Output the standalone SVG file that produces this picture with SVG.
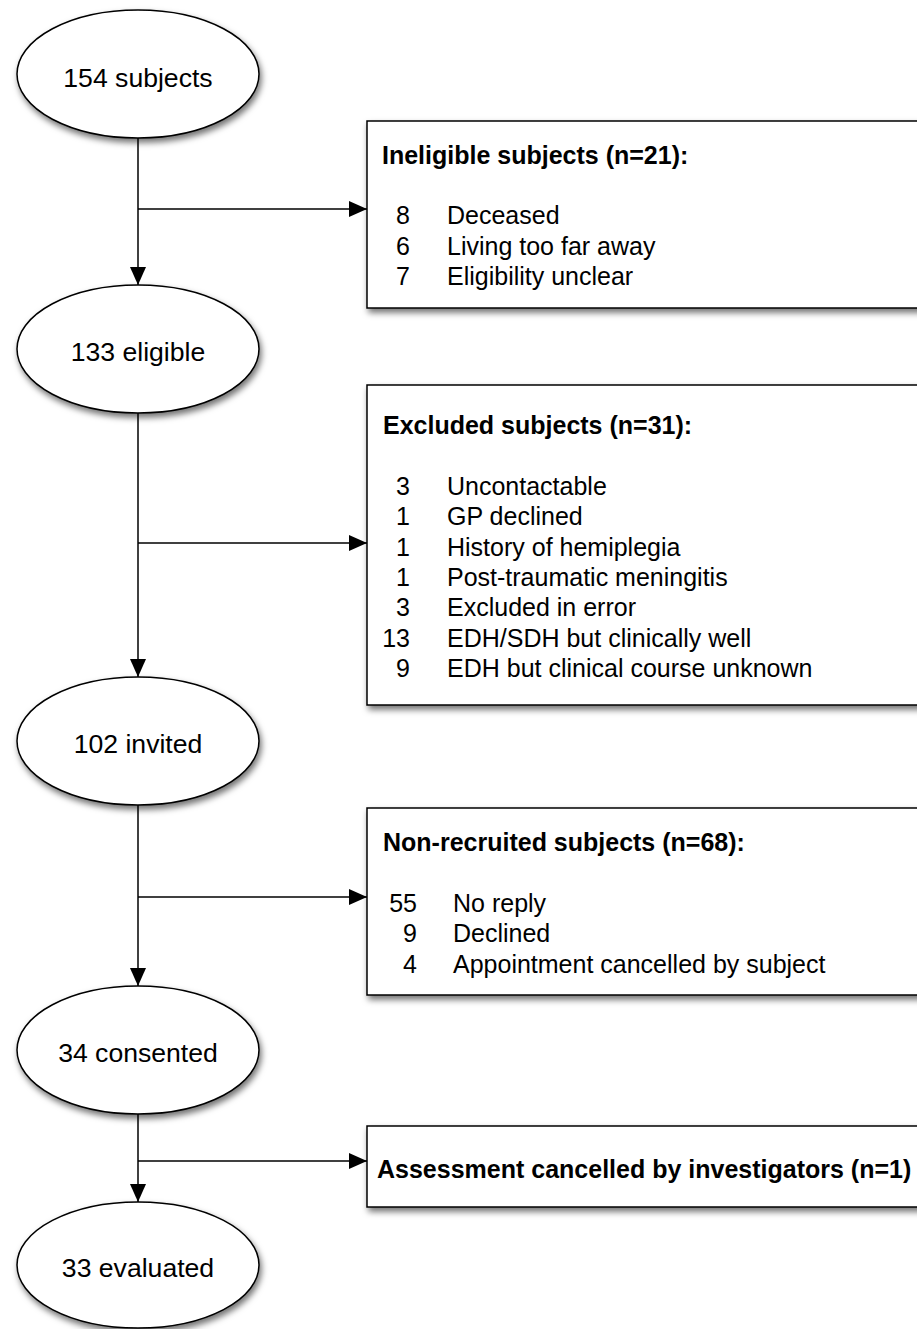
<svg xmlns="http://www.w3.org/2000/svg" width="917" height="1329" viewBox="0 0 917 1329">
<defs>
<filter id="sh" x="-10%" y="-10%" width="130%" height="140%">
<feDropShadow dx="2" dy="4" stdDeviation="3" flood-color="#000" flood-opacity="0.55"/>
</filter>
<marker id="ah" markerUnits="userSpaceOnUse" markerWidth="18" markerHeight="16" refX="18" refY="8" orient="auto">
<path d="M0,0 L18,8 L0,16 Z" fill="#000"/>
</marker>
</defs>
<style>
.node{fill:#fff;stroke:#000;stroke-width:1.5;filter:url(#sh)}
.et{font-family:"Liberation Sans",Arial,sans-serif;font-size:26.6px;text-anchor:middle;fill:#000}
.hd{font-family:"Liberation Sans",Arial,sans-serif;font-size:25px;font-weight:bold;fill:#000}
.it{font-family:"Liberation Sans",Arial,sans-serif;font-size:25px;fill:#000}
.num{text-anchor:end}
.conn{stroke:#000;stroke-width:1.5;fill:none}
</style>
<g id="connectors">
<path class="conn" d="M138,138 V285" marker-end="url(#ah)"/>
<path class="conn" d="M138,209 H367" marker-end="url(#ah)"/>
<path class="conn" d="M138,413 V677" marker-end="url(#ah)"/>
<path class="conn" d="M138,543 H367" marker-end="url(#ah)"/>
<path class="conn" d="M138,805 V986" marker-end="url(#ah)"/>
<path class="conn" d="M138,897 H367" marker-end="url(#ah)"/>
<path class="conn" d="M138,1114 V1202" marker-end="url(#ah)"/>
<path class="conn" d="M138,1161 H367" marker-end="url(#ah)"/>
</g>
<g id="n154">
<ellipse class="node" cx="138" cy="74" rx="121" ry="64"/>
<text class="et" x="138" y="87">154 subjects</text>
</g>
<g id="n133">
<ellipse class="node" cx="138" cy="349" rx="121" ry="64"/>
<text class="et" x="138" y="361">133 eligible</text>
</g>
<g id="n102">
<ellipse class="node" cx="138" cy="741" rx="121" ry="64"/>
<text class="et" x="138" y="753">102 invited</text>
</g>
<g id="n34">
<ellipse class="node" cx="138" cy="1050" rx="121" ry="64"/>
<text class="et" x="138" y="1062">34 consented</text>
</g>
<g id="n33">
<ellipse class="node" cx="138" cy="1265" rx="121" ry="63"/>
<text class="et" x="138" y="1277">33 evaluated</text>
</g>
<g id="ineligible">
<rect class="node" x="367" y="121" width="570" height="187"/>
<text class="hd" x="382" y="164">Ineligible subjects (n=21):</text>
<text class="it num" x="410" y="224">8</text><text class="it" x="447" y="224">Deceased</text>
<text class="it num" x="410" y="255">6</text><text class="it" x="447" y="255">Living too far away</text>
<text class="it num" x="410" y="285">7</text><text class="it" x="447" y="285">Eligibility unclear</text>
</g>
<g id="excluded">
<rect class="node" x="367" y="385" width="570" height="320"/>
<text class="hd" x="383" y="434">Excluded subjects (n=31):</text>
<text class="it num" x="410" y="495">3</text><text class="it" x="447" y="495">Uncontactable</text>
<text class="it num" x="410" y="525">1</text><text class="it" x="447" y="525">GP declined</text>
<text class="it num" x="410" y="556">1</text><text class="it" x="447" y="556">History of hemiplegia</text>
<text class="it num" x="410" y="586">1</text><text class="it" x="447" y="586">Post-traumatic meningitis</text>
<text class="it num" x="410" y="616">3</text><text class="it" x="447" y="616">Excluded in error</text>
<text class="it num" x="410" y="647">13</text><text class="it" x="447" y="647">EDH/SDH but clinically well</text>
<text class="it num" x="410" y="677">9</text><text class="it" x="447" y="677">EDH but clinical course unknown</text>
</g>
<g id="nonrecruited">
<rect class="node" x="367" y="808" width="570" height="187"/>
<text class="hd" x="383" y="851">Non-recruited subjects (n=68):</text>
<text class="it num" x="417" y="912">55</text><text class="it" x="453" y="912">No reply</text>
<text class="it num" x="417" y="942">9</text><text class="it" x="453" y="942">Declined</text>
<text class="it num" x="417" y="973">4</text><text class="it" x="453" y="973">Appointment cancelled by subject</text>
</g>
<g id="cancelled">
<rect class="node" x="367" y="1126" width="570" height="81"/>
<text class="hd" x="377" y="1178">Assessment cancelled by investigators (n=1)</text>
</g>
</svg>
